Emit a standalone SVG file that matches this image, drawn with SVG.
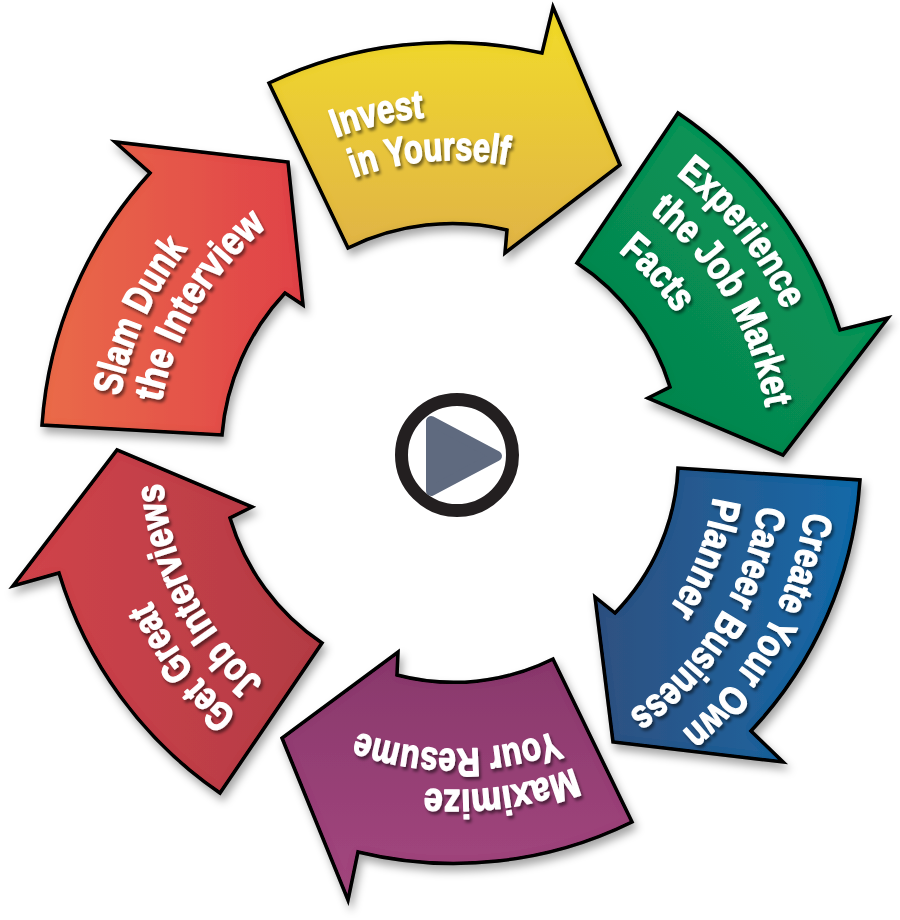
<svg xmlns="http://www.w3.org/2000/svg" width="900" height="920" viewBox="0 0 900 920">
<style>
.arrow{stroke:#000;stroke-width:3.5;stroke-linejoin:miter;stroke-miterlimit:10}
.lbl{font-family:"Liberation Sans Narrow","Liberation Sans",Arial,sans-serif;font-weight:bold;font-size:40px;fill:#fff;stroke:#fff;stroke-width:1.4;stroke-linejoin:round}
</style>
<defs>
<linearGradient id="gY" x1="0" y1="0" x2="0" y2="1"><stop offset="0" stop-color="#f2dc29"/><stop offset="1" stop-color="#e0b347"/></linearGradient>
<linearGradient id="gG" x1="1" y1="0" x2="0" y2="1"><stop offset="0" stop-color="#0e9d5c"/><stop offset="1" stop-color="#017f4a"/></linearGradient>
<linearGradient id="gB" x1="1" y1="0" x2="0" y2="0"><stop offset="0" stop-color="#1669a8"/><stop offset="1" stop-color="#2f5080"/></linearGradient>
<linearGradient id="gP" x1="0" y1="0" x2="0" y2="1"><stop offset="0" stop-color="#88386b"/><stop offset="1" stop-color="#a4477f"/></linearGradient>
<linearGradient id="gR" x1="0" y1="0" x2="1" y2="0"><stop offset="0" stop-color="#d1444b"/><stop offset="1" stop-color="#b33b44"/></linearGradient>
<linearGradient id="gO" x1="0" y1="0" x2="1" y2="0"><stop offset="0" stop-color="#ea6b4a"/><stop offset="1" stop-color="#e04247"/></linearGradient>
<filter id="fx" x="-15%" y="-15%" width="135%" height="135%">
<feGaussianBlur in="SourceAlpha" stdDeviation="4" result="blur"/>
<feOffset in="blur" dx="3" dy="6" result="ds"/>
<feFlood flood-color="#000" flood-opacity="0.35"/>
<feComposite in2="ds" operator="in" result="dshadow"/>
<feGaussianBlur in="SourceAlpha" stdDeviation="4" result="b2"/>
<feComposite in="SourceAlpha" in2="b2" operator="out" result="rim"/>
<feFlood flood-color="#000" flood-opacity="0.35"/>
<feComposite in2="rim" operator="in" result="ishadow"/>
<feMerge><feMergeNode in="dshadow"/><feMergeNode in="SourceGraphic"/><feMergeNode in="ishadow"/></feMerge>
</filter>
<filter id="ts" x="-20%" y="-20%" width="140%" height="140%">
<feGaussianBlur in="SourceAlpha" stdDeviation="1.5"/>
<feOffset dx="2" dy="3" result="o"/>
<feFlood flood-color="#000" flood-opacity="0.5"/>
<feComposite in2="o" operator="in"/>
<feMerge><feMergeNode/><feMergeNode in="SourceGraphic"/></feMerge>
</filter>
<path id="py1" d="M335.7,137.4 A344,344 0 0 1 717.4,237.5"/>
<path id="py2" d="M353.9,177.6 A300,300 0 0 1 685.8,268.4"/>
<path id="pg1" d="M676.3,174.7 A361,361 0 0 1 798.7,570.4"/>
<path id="pg2" d="M649.8,212.4 A315,315 0 0 1 754.3,558.4"/>
<path id="pg3" d="M618.5,251.5 A265,265 0 0 1 706.9,542.3"/>
<path id="pb1" d="M805.2,511.7 A354,354 0 0 1 526.2,806.8"/>
<path id="pb2" d="M758.6,505.4 A307,307 0 0 1 516.2,760.8"/>
<path id="pb3" d="M713.3,497.2 A261,261 0 0 1 508.4,715.5"/>
<path id="pp1" d="M573.8,767.9 A330,330 0 0 1 206.3,676.9"/>
<path id="pp2" d="M555.7,730.9 A289,289 0 0 1 234.9,647.3"/>
<path id="pr1" d="M237.0,714.4 A335,335 0 0 1 141.4,342.1"/>
<path id="pr2" d="M263.2,681.5 A293,293 0 0 1 181.3,355.5"/>
<path id="po1" d="M120.0,396.1 A341,341 0 0 1 400.5,123.4"/>
<path id="po2" d="M161.1,402.3 A299.5,299.5 0 0 1 408.7,164.1"/>
</defs>
<rect width="900" height="920" fill="#fff"/>
<g id="connectors"/>
<g id="invest">
<path class="arrow" fill="url(#gY)" filter="url(#fx)" d="M269,83 A418,418 0 0 1 542,53 L553,7 L620,165 L505,253 L507,230 A236,236 0 0 0 348,248 Z"/>
<g filter="url(#ts)">
<text class="lbl"><textPath href="#py1" textLength="91" lengthAdjust="spacingAndGlyphs">Invest</textPath></text>
<text class="lbl"><textPath href="#py2" textLength="156" lengthAdjust="spacingAndGlyphs">in Yourself</textPath></text>
</g>
</g>
<g id="experience">
<path class="arrow" fill="url(#gG)" filter="url(#fx)" d="M678,113 A410,410 0 0 1 840,330 L888,318 L783,455 L648,398 L670,387 A228,228 0 0 0 577,263 Z"/>
<g filter="url(#ts)">
<text class="lbl"><textPath href="#pg1" textLength="174" lengthAdjust="spacingAndGlyphs">Experience</textPath></text>
<text class="lbl"><textPath href="#pg2" textLength="232" lengthAdjust="spacingAndGlyphs">the Job Market</textPath></text>
<text class="lbl"><textPath href="#pg3" textLength="85" lengthAdjust="spacingAndGlyphs">Facts</textPath></text>
</g>
</g>
<g id="create">
<path class="arrow" fill="url(#gB)" filter="url(#fx)" d="M860,480 A404,404 0 0 1 751,731 L783,762 L613,742 L595,597 L615,613 A222,222 0 0 0 678,468 Z"/>
<g filter="url(#ts)">
<text class="lbl"><textPath href="#pb1" textLength="258" lengthAdjust="spacingAndGlyphs">Create Your Own</textPath></text>
<text class="lbl"><textPath href="#pb2" textLength="252" lengthAdjust="spacingAndGlyphs">Career Business</textPath></text>
<text class="lbl"><textPath href="#pb3" textLength="121" lengthAdjust="spacingAndGlyphs">Planner</textPath></text>
</g>
</g>
<g id="maximize">
<path class="arrow" fill="url(#gP)" filter="url(#fx)" d="M632,822 A404,404 0 0 1 358,852 L348,900 L282,738 L398,652 L397,675 A223,223 0 0 0 553,659 Z"/>
<g filter="url(#ts)">
<text class="lbl"><textPath href="#pp1" textLength="152" lengthAdjust="spacingAndGlyphs">Maximize</textPath></text>
<text class="lbl"><textPath href="#pp2" textLength="202" lengthAdjust="spacingAndGlyphs">Your Resume</textPath></text>
</g>
</g>
<g id="getgreat">
<path class="arrow" fill="url(#gR)" filter="url(#fx)" d="M220,793 A410,410 0 0 1 59,573 L13,586 L117,450 L252,507 L230,518 A229,229 0 0 0 322,643 Z"/>
<g filter="url(#ts)">
<text class="lbl"><textPath href="#pr1" textLength="143" lengthAdjust="spacingAndGlyphs">Get Great</textPath></text>
<text class="lbl"><textPath href="#pr2" textLength="228" lengthAdjust="spacingAndGlyphs">Job Interviews</textPath></text>
</g>
</g>
<g id="slamdunk">
<path class="arrow" fill="url(#gO)" filter="url(#fx)" d="M42,425 A416,416 0 0 1 150,173 L115,142 L288,162 L303,305 L285,293 A236,236 0 0 0 222,435 Z"/>
<g filter="url(#ts)">
<text class="lbl"><textPath href="#po1" textLength="164" lengthAdjust="spacingAndGlyphs">Slam Dunk</textPath></text>
<text class="lbl"><textPath href="#po2" textLength="209" lengthAdjust="spacingAndGlyphs">the Interview</textPath></text>
</g>
</g>
<g id="play">
<circle cx="457" cy="455" r="55.5" fill="#fff" stroke="#231f20" stroke-width="13"/>
<path d="M431,421 L431,491 L497,456 Z" fill="#5f6a7f" stroke="#5f6a7f" stroke-width="10" stroke-linejoin="round"/>
</g>
</svg>
